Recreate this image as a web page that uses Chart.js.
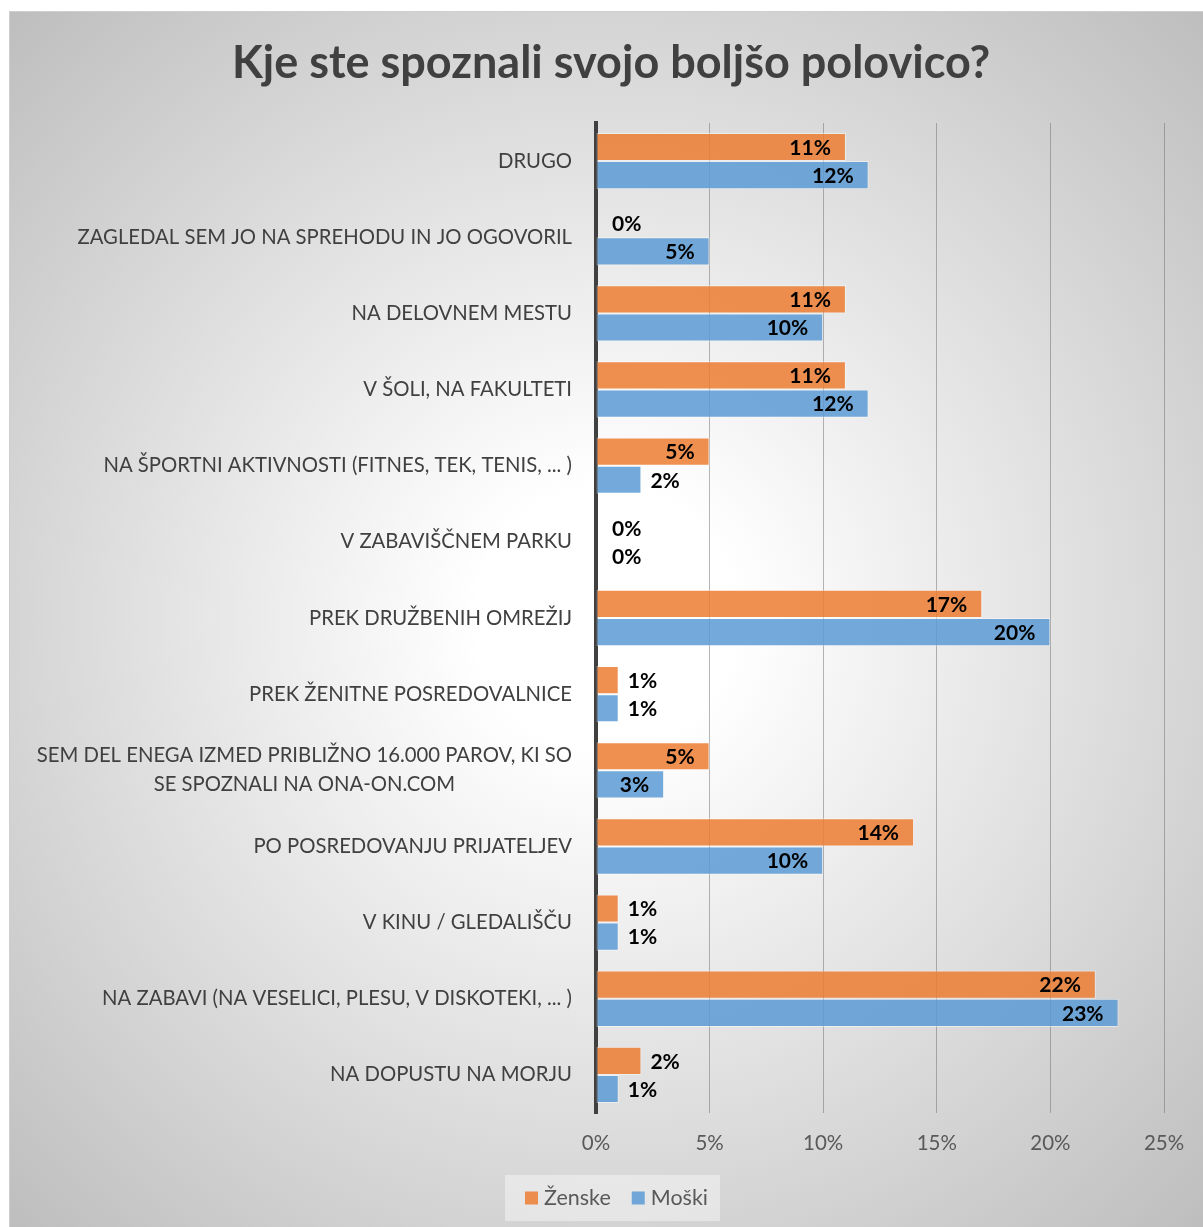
<!DOCTYPE html>
<html>
<head>
<meta charset="utf-8">
<script src="https://cdn.jsdelivr.net/npm/chart.js@4.4.1/dist/chart.umd.min.js"></script>
<style>
  html, body { margin: 0; padding: 0; background: #fff; }
  canvas { display: block; }
</style>
</head>
<body>
<canvas id="grafikon" width="1203" height="1227"></canvas>
<script>
// podatki (od zgoraj navzdol)
const naslov = 'Kje ste spoznali svojo boljšo polovico?';
const kategorije = [
  'DRUGO',
  'ZAGLEDAL SEM JO NA SPREHODU IN JO OGOVORIL',
  'NA DELOVNEM MESTU',
  'V ŠOLI, NA FAKULTETI',
  'NA ŠPORTNI AKTIVNOSTI (FITNES, TEK, TENIS, ... )',
  'V ZABAVIŠČNEM PARKU',
  'PREK DRUŽBENIH OMREŽIJ',
  'PREK ŽENITNE POSREDOVALNICE',
  ['SEM DEL ENEGA IZMED PRIBLIŽNO 16.000 PAROV, KI SO', 'SE SPOZNALI NA ONA-ON.COM'],
  'PO POSREDOVANJU PRIJATELJEV',
  'V KINU / GLEDALIŠČU',
  'NA ZABAVI (NA VESELICI, PLESU, V DISKOTEKI, ... )',
  'NA DOPUSTU NA MORJU'
];
const zenske = [11, 0, 11, 11, 5, 0, 17, 1, 5, 14, 1, 22, 2];
const moski  = [12, 5, 10, 12, 2, 0, 20, 1, 3, 10, 1, 23, 1];
const xOznake = [0, 5, 10, 15, 20, 25];

const FONT = 'Lato, "Open Sans", sans-serif';
const ORANZNA = 'rgba(237, 125, 49, 0.85)';
const MODRA = 'rgba(91, 155, 213, 0.85)';

// ozadje z radialnim prelivom
const ozadje = {
  id: 'ozadje',
  beforeDraw(chart) {
    const ctx = chart.ctx;
    ctx.save();
    ctx.fillStyle = '#ffffff';
    ctx.fillRect(0, 0, chart.width, chart.height);
    const x0 = 9, y0 = 11, w = chart.width - x0, h = chart.height - y0;
    const g = ctx.createRadialGradient(x0 + w / 2, y0 + h / 2, 0, x0 + w / 2, y0 + h / 2, 860);
    g.addColorStop(0, '#ffffff');
    g.addColorStop(0.15, '#ffffff');
    g.addColorStop(1, '#bdbdbd');
    ctx.fillStyle = g;
    ctx.fillRect(x0, y0, w, h);
    ctx.strokeStyle = '#cfcfcf';
    ctx.lineWidth = 1;
    ctx.strokeRect(x0 + 0.5, y0 + 0.5, w, h);
    ctx.restore();
  }
};

// naslov, oznake kategorij in legenda
const besedila = {
  id: 'besedila',
  afterDraw(chart) {
    const ctx = chart.ctx;
    const yScale = chart.scales.y;
    ctx.save();

    // naslov
    ctx.fillStyle = '#404040';
    ctx.font = 'bold 45px ' + FONT;
    ctx.textAlign = 'center';
    ctx.textBaseline = 'middle';
    ctx.fillText(naslov, 611, 63);

    // oznake kategorij
    ctx.font = '20.3px ' + FONT;
    ctx.fillStyle = '#404040';
    const desno = yScale.right - 24;
    kategorije.forEach((kat, i) => {
      const vrstice = Array.isArray(kat) ? kat : [kat];
      const sirina = Math.max(...vrstice.map(v => ctx.measureText(v).width));
      const cx = desno - sirina / 2;
      const y = yScale.getPixelForValue(i);
      vrstice.forEach((v, j) => {
        ctx.fillText(v, cx, y + (j - (vrstice.length - 1) / 2) * 29);
      });
    });

    // legenda
    ctx.font = '21.5px ' + FONT;
    const postavke = chart.data.datasets.map(ds => ({ text: ds.label, barva: ds.backgroundColor }));
    let x = 505;
    const yTop = 1175, yBot = 1221;
    const sirine = postavke.map(p => ctx.measureText(p.text).width);
    const skupaj = 20 + sirine.reduce((a, b) => a + b, 0) + postavke.length * 19 + 21 * (postavke.length - 1) + 12;
    ctx.fillStyle = 'rgba(255, 255, 255, 0.4)';
    ctx.fillRect(x, yTop, skupaj, yBot - yTop);
    x += 20;
    const yc = (yTop + yBot) / 2;
    ctx.textAlign = 'left';
    postavke.forEach((p, i) => {
      ctx.fillStyle = p.barva;
      ctx.fillRect(x, yc - 6.5, 13, 13);
      x += 19;
      ctx.fillStyle = '#595959';
      ctx.fillText(p.text, x, yc);
      x += sirine[i] + 21;
    });
    ctx.restore();
  }
};

// oznake vrednosti na stolpcih
const oznakeVrednosti = {
  id: 'oznakeVrednosti',
  afterDatasetsDraw(chart) {
    const ctx = chart.ctx;
    ctx.save();
    ctx.font = 'bold 21px ' + FONT;
    ctx.fillStyle = '#000000';
    ctx.textBaseline = 'middle';
    chart.data.datasets.forEach((ds, di) => {
      chart.getDatasetMeta(di).data.forEach((bar, i) => {
        const txt = ds.data[i] + '%';
        const w = ctx.measureText(txt).width;
        const dolzina = bar.x - bar.base;
        if (dolzina >= w + 20) {
          ctx.textAlign = 'right';
          ctx.fillText(txt, bar.x - 15, bar.y + 1);
        } else {
          ctx.textAlign = 'left';
          ctx.fillText(txt, Math.max(bar.x + 9, bar.base + 16), bar.y + 1);
        }
      });
    });
    ctx.restore();
  }
};

new Chart(document.getElementById('grafikon'), {
  type: 'bar',
  data: {
    labels: kategorije,
    datasets: [
      {
        label: 'Ženske',
        data: zenske,
        backgroundColor: ORANZNA,
        borderColor: 'rgba(255, 255, 255, 0.45)',
        borderWidth: 1,
        borderSkipped: false
      },
      {
        label: 'Moški',
        data: moski,
        backgroundColor: MODRA,
        borderColor: 'rgba(255, 255, 255, 0.45)',
        borderWidth: 1,
        borderSkipped: false
      }
    ]
  },
  options: {
    indexAxis: 'y',
    responsive: false,
    devicePixelRatio: 1,
    animation: false,
    layout: { padding: { top: 123, right: 39, left: 0, bottom: 0 } },
    datasets: { bar: { categoryPercentage: 0.74, barPercentage: 1.0 } },
    scales: {
      x: {
        min: 0,
        max: 25,
        afterBuildTicks(scale) {
          scale.ticks = xOznake.map(v => ({ value: v }));
        },
        afterFit(scale) { scale.height = 114; },
        grid: { color: 'rgba(110, 110, 110, 0.5)', lineWidth: 1, drawTicks: false },
        border: { display: false },
        ticks: {
          callback: v => v + '%',
          color: '#595959',
          font: { family: FONT, size: 20.5 },
          padding: 18,
          maxRotation: 0
        }
      },
      y: {
        afterFit(scale) { scale.width = 596; },
        grid: { display: false, drawTicks: false },
        border: { display: true, color: '#404040', width: 4 },
        ticks: { display: false }
      }
    },
    plugins: {
      legend: { display: false },
      title: { display: false },
      tooltip: { enabled: false }
    }
  },
  plugins: [ozadje, besedila, oznakeVrednosti]
});
</script>
</body>
</html>
